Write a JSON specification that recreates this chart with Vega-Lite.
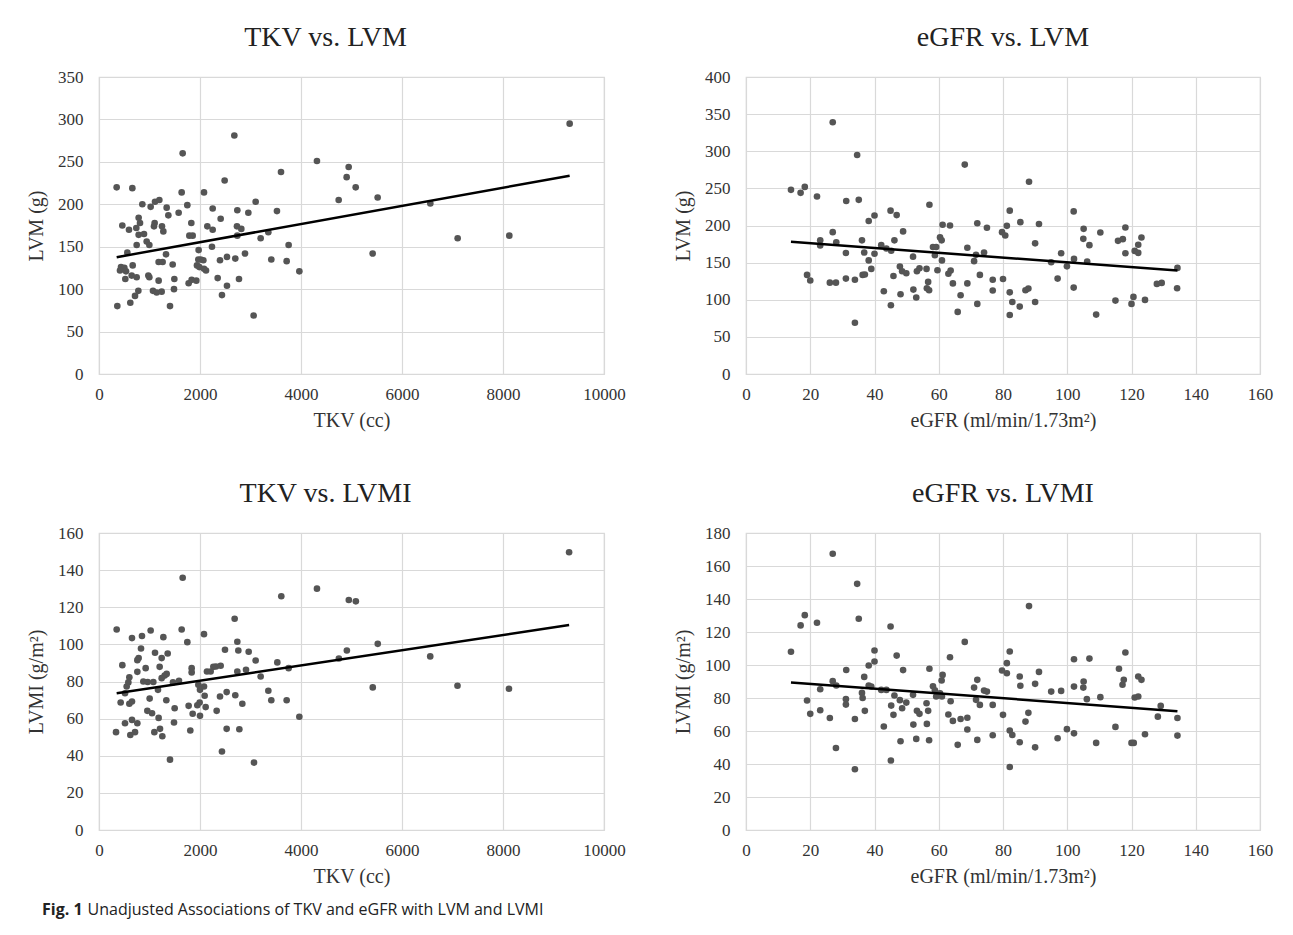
{
 "$schema": "https://vega.github.io/schema/vega-lite/v6.json",
 "background": "white",
 "padding": {"left": 25, "top": 23, "right": 5, "bottom": 5},
 "config": {
  "font": "Liberation Serif",
  "view": {"stroke": "#d9d9d9", "strokeWidth": 1.2},
  "style": {"guide-label": {"font": "Liberation Serif", "fontSize": 17, "fill": "#333333"}},
  "axis": {"domain": false, "ticks": false, "tickSize": 0, "gridColor": "#d9d9d9", "gridWidth": 1.2, "labelFont": "Liberation Serif", "labelFontSize": 17, "labelColor": "#333333", "labelFlush": false, "labelOverlap": false, "titleFont": "Liberation Serif", "titleFontSize": 20, "titleFontWeight": "normal", "titleColor": "#333333", "format": "d"},
  "axisX": {"labelPadding": 12, "titlePadding": 8},
  "axisY": {"labelPadding": 16, "titlePadding": 11},
  "title": {"font": "Liberation Serif", "fontSize": 28, "fontWeight": "normal", "color": "#222222", "anchor": "middle", "frame": "group", "offset": 16}
 },
 "datasets": {
  "tkv_lvm": [
   {"tkv":350,"lvm":220},{"tkv":660,"lvm":219},{"tkv":363,"lvm":80},{"tkv":462,"lvm":175},{"tkv":594,"lvm":170},{"tkv":858,"lvm":200},{"tkv":1023,"lvm":197},{"tkv":1109,"lvm":203},{"tkv":1195,"lvm":205},{"tkv":1340,"lvm":196},{"tkv":1373,"lvm":187},{"tkv":1102,"lvm":178},{"tkv":1089,"lvm":174},{"tkv":1247,"lvm":174},{"tkv":1274,"lvm":168},{"tkv":785,"lvm":184},{"tkv":812,"lvm":178},{"tkv":739,"lvm":172},{"tkv":785,"lvm":164},{"tkv":891,"lvm":165},{"tkv":746,"lvm":152},{"tkv":944,"lvm":156},{"tkv":997,"lvm":152},{"tkv":561,"lvm":143},{"tkv":436,"lvm":126},{"tkv":502,"lvm":125},{"tkv":416,"lvm":122},{"tkv":535,"lvm":121},{"tkv":521,"lvm":112},{"tkv":667,"lvm":128},{"tkv":647,"lvm":116},{"tkv":746,"lvm":114},{"tkv":977,"lvm":116},{"tkv":997,"lvm":114},{"tkv":1181,"lvm":110},{"tkv":779,"lvm":98},{"tkv":713,"lvm":92},{"tkv":620,"lvm":84},{"tkv":1069,"lvm":98},{"tkv":1142,"lvm":96},{"tkv":1241,"lvm":97},{"tkv":1181,"lvm":132},{"tkv":1260,"lvm":132},{"tkv":1327,"lvm":141},{"tkv":1459,"lvm":129},{"tkv":1492,"lvm":112},{"tkv":1485,"lvm":100},{"tkv":1406,"lvm":80},{"tkv":1577,"lvm":190},{"tkv":1637,"lvm":214},{"tkv":1657,"lvm":260},{"tkv":1749,"lvm":199},{"tkv":1828,"lvm":178},{"tkv":1789,"lvm":163},{"tkv":1855,"lvm":163},{"tkv":1973,"lvm":146},{"tkv":1967,"lvm":135},{"tkv":2013,"lvm":135},{"tkv":2066,"lvm":134},{"tkv":1940,"lvm":128},{"tkv":1987,"lvm":126},{"tkv":2079,"lvm":124},{"tkv":2119,"lvm":122},{"tkv":1775,"lvm":107},{"tkv":1835,"lvm":111},{"tkv":1927,"lvm":110},{"tkv":2079,"lvm":214},{"tkv":2145,"lvm":174},{"tkv":2251,"lvm":170},{"tkv":2251,"lvm":195},{"tkv":2237,"lvm":150},{"tkv":2350,"lvm":113},{"tkv":2409,"lvm":183},{"tkv":2396,"lvm":134},{"tkv":2534,"lvm":138},{"tkv":2435,"lvm":93},{"tkv":2534,"lvm":104},{"tkv":2488,"lvm":228},{"tkv":2680,"lvm":281},{"tkv":2739,"lvm":193},{"tkv":2732,"lvm":174},{"tkv":2739,"lvm":163},{"tkv":2818,"lvm":171},{"tkv":2699,"lvm":136},{"tkv":2772,"lvm":112},{"tkv":2891,"lvm":142},{"tkv":2957,"lvm":190},{"tkv":3102,"lvm":203},{"tkv":3062,"lvm":69},{"tkv":3201,"lvm":160},{"tkv":3353,"lvm":167},{"tkv":3524,"lvm":192},{"tkv":3604,"lvm":238},{"tkv":3412,"lvm":135},{"tkv":3755,"lvm":152},{"tkv":3716,"lvm":133},{"tkv":3967,"lvm":121},{"tkv":4316,"lvm":251},{"tkv":4746,"lvm":205},{"tkv":4944,"lvm":244},{"tkv":4904,"lvm":232},{"tkv":5083,"lvm":220},{"tkv":5518,"lvm":208},{"tkv":5419,"lvm":142},{"tkv":6561,"lvm":201},{"tkv":7102,"lvm":160},{"tkv":8125,"lvm":163},{"tkv":9320,"lvm":295}
  ],
  "fit_tkv_lvm": [{"tkv":350,"lvm":137.7},{"tkv":9320,"lvm":233.6}],
  "egfr_lvm": [
   {"egfr":14,"lvm":248},{"egfr":17,"lvm":244},{"egfr":18.3,"lvm":252},{"egfr":22.1,"lvm":239},{"egfr":19,"lvm":133.5},{"egfr":20,"lvm":126},{"egfr":23.1,"lvm":180},{"egfr":23.1,"lvm":173},{"egfr":26.1,"lvm":123},{"egfr":27,"lvm":339},{"egfr":27,"lvm":191},{"egfr":28.1,"lvm":177.5},{"egfr":28,"lvm":123},{"egfr":31.2,"lvm":233},{"egfr":31.1,"lvm":163},{"egfr":31.1,"lvm":128.5},{"egfr":34.6,"lvm":295},{"egfr":35.1,"lvm":234.6},{"egfr":33.9,"lvm":127},{"egfr":33.9,"lvm":69},{"egfr":36.1,"lvm":180},{"egfr":36.8,"lvm":163.6},{"egfr":36.3,"lvm":133.5},{"egfr":37,"lvm":134},{"egfr":38.2,"lvm":206},{"egfr":40,"lvm":213.5},{"egfr":38.2,"lvm":153},{"egfr":40,"lvm":162},{"egfr":39,"lvm":141.5},{"egfr":42.1,"lvm":173.5},{"egfr":42.9,"lvm":111.5},{"egfr":45,"lvm":220},{"egfr":46.9,"lvm":214},{"egfr":43.7,"lvm":169},{"egfr":45.2,"lvm":166},{"egfr":46.2,"lvm":180},{"egfr":48.9,"lvm":192},{"egfr":45.9,"lvm":132},{"egfr":45.1,"lvm":92.6},{"egfr":47.9,"lvm":144.7},{"egfr":48.6,"lvm":138.4},{"egfr":49.9,"lvm":135.7},{"egfr":48.1,"lvm":107.4},{"egfr":52,"lvm":158},{"egfr":52.1,"lvm":113.7},{"egfr":53,"lvm":103},{"egfr":53.2,"lvm":138.4},{"egfr":54,"lvm":142.5},{"egfr":56.2,"lvm":141.5},{"egfr":57.1,"lvm":228},{"egfr":56.3,"lvm":115.5},{"egfr":57,"lvm":112.8},{"egfr":56.7,"lvm":124},{"egfr":58.2,"lvm":171},{"egfr":59.2,"lvm":171},{"egfr":58.8,"lvm":160},{"egfr":59.6,"lvm":139.8},{"egfr":60.4,"lvm":184},{"egfr":60.9,"lvm":180},{"egfr":61.2,"lvm":201},{"egfr":63.5,"lvm":200},{"egfr":61,"lvm":153},{"egfr":63,"lvm":135},{"egfr":63.7,"lvm":139.3},{"egfr":64.4,"lvm":122},{"egfr":66.8,"lvm":106},{"egfr":65.9,"lvm":83.6},{"egfr":68.1,"lvm":282},{"egfr":68.9,"lvm":170},{"egfr":68.9,"lvm":122},{"egfr":71,"lvm":152},{"egfr":72,"lvm":203},{"egfr":71.6,"lvm":160.5},{"egfr":72.8,"lvm":133.5},{"egfr":72,"lvm":94.4},{"egfr":74.1,"lvm":163.6},{"egfr":75,"lvm":197},{"egfr":76.8,"lvm":127},{"egfr":76.8,"lvm":112.4},{"egfr":80,"lvm":128},{"egfr":82.1,"lvm":220},{"egfr":81.2,"lvm":199.5},{"egfr":79.7,"lvm":191},{"egfr":80.7,"lvm":186.5},{"egfr":85.4,"lvm":204.5},{"egfr":88.1,"lvm":259},{"egfr":91.2,"lvm":202},{"egfr":90,"lvm":176},{"egfr":82.1,"lvm":110},{"egfr":82.9,"lvm":97},{"egfr":82.1,"lvm":79.5},{"egfr":85.2,"lvm":90.8},{"egfr":87,"lvm":112.8},{"egfr":87.9,"lvm":115},{"egfr":90,"lvm":97},{"egfr":95,"lvm":150.5},{"egfr":98.1,"lvm":162.7},{"egfr":97,"lvm":128.5},{"egfr":99.9,"lvm":145},{"egfr":102.1,"lvm":155},{"egfr":102,"lvm":219},{"egfr":105.1,"lvm":195.5},{"egfr":105,"lvm":182},{"egfr":106.9,"lvm":173.5},{"egfr":106.2,"lvm":151.5},{"egfr":102,"lvm":116.4},{"egfr":109,"lvm":80},{"egfr":110.3,"lvm":190.5},{"egfr":115.8,"lvm":179.3},{"egfr":117.3,"lvm":181.6},{"egfr":118.1,"lvm":197.3},{"egfr":118.1,"lvm":162.7},{"egfr":115,"lvm":98.9},{"egfr":120.6,"lvm":103.8},{"egfr":120,"lvm":94.4},{"egfr":124.2,"lvm":99.8},{"egfr":121,"lvm":165.8},{"egfr":122.1,"lvm":174},{"egfr":122.1,"lvm":163.1},{"egfr":123.1,"lvm":183.8},{"egfr":127.9,"lvm":121.3},{"egfr":129.4,"lvm":122.7},{"egfr":134.3,"lvm":142.9},{"egfr":134.2,"lvm":115.5}
  ],
  "fit_egfr_lvm": [{"egfr":14,"lvm":178},{"egfr":134.3,"lvm":139.3}],
  "tkv_lvmi": [
   {"tkv":350,"lvmi":108},{"tkv":462,"lvmi":88.8},{"tkv":429,"lvmi":68.7},{"tkv":337,"lvmi":52.7},{"tkv":515,"lvmi":57.5},{"tkv":548,"lvmi":77.3},{"tkv":581,"lvmi":79.5},{"tkv":601,"lvmi":82.3},{"tkv":515,"lvmi":73.7},{"tkv":601,"lvmi":68},{"tkv":653,"lvmi":69.2},{"tkv":620,"lvmi":51.2},{"tkv":653,"lvmi":59.3},{"tkv":713,"lvmi":52.7},{"tkv":759,"lvmi":57.5},{"tkv":653,"lvmi":103.4},{"tkv":851,"lvmi":104.5},{"tkv":1023,"lvmi":107.5},{"tkv":832,"lvmi":97.8},{"tkv":759,"lvmi":91.5},{"tkv":785,"lvmi":92.6},{"tkv":759,"lvmi":85.2},{"tkv":924,"lvmi":87.2},{"tkv":878,"lvmi":80},{"tkv":964,"lvmi":79.7},{"tkv":1003,"lvmi":70.8},{"tkv":957,"lvmi":64.2},{"tkv":1050,"lvmi":62.9},{"tkv":1181,"lvmi":60.4},{"tkv":1096,"lvmi":52.7},{"tkv":1208,"lvmi":54.5},{"tkv":1254,"lvmi":50.5},{"tkv":1109,"lvmi":95.5},{"tkv":1076,"lvmi":79.7},{"tkv":1168,"lvmi":75.5},{"tkv":1201,"lvmi":87.9},{"tkv":1241,"lvmi":92.6},{"tkv":1274,"lvmi":103.9},{"tkv":1360,"lvmi":95.1},{"tkv":1300,"lvmi":83.2},{"tkv":1340,"lvmi":84.1},{"tkv":1241,"lvmi":81.8},{"tkv":1333,"lvmi":69.9},{"tkv":1498,"lvmi":65.6},{"tkv":1485,"lvmi":57.9},{"tkv":1406,"lvmi":37.9},{"tkv":1465,"lvmi":79.5},{"tkv":1584,"lvmi":80.4},{"tkv":1637,"lvmi":108},{"tkv":1657,"lvmi":135.9},{"tkv":1749,"lvmi":101.2},{"tkv":1835,"lvmi":87.2},{"tkv":1835,"lvmi":84.9},{"tkv":1775,"lvmi":66.9},{"tkv":1855,"lvmi":62.6},{"tkv":1808,"lvmi":53.6},{"tkv":1967,"lvmi":78.2},{"tkv":2000,"lvmi":75.5},{"tkv":1993,"lvmi":68.7},{"tkv":1947,"lvmi":67.2},{"tkv":2000,"lvmi":61.5},{"tkv":2079,"lvmi":105.5},{"tkv":2079,"lvmi":77.3},{"tkv":2092,"lvmi":72.3},{"tkv":2112,"lvmi":66.2},{"tkv":2138,"lvmi":85.4},{"tkv":2211,"lvmi":85.4},{"tkv":2264,"lvmi":87.9},{"tkv":2316,"lvmi":88.1},{"tkv":2409,"lvmi":88.5},{"tkv":2330,"lvmi":64.2},{"tkv":2396,"lvmi":71.9},{"tkv":2435,"lvmi":42.3},{"tkv":2495,"lvmi":97.1},{"tkv":2528,"lvmi":74.3},{"tkv":2528,"lvmi":54.5},{"tkv":2686,"lvmi":113.8},{"tkv":2739,"lvmi":101.4},{"tkv":2759,"lvmi":96.7},{"tkv":2739,"lvmi":85.4},{"tkv":2699,"lvmi":72.6},{"tkv":2779,"lvmi":54.3},{"tkv":2838,"lvmi":68},{"tkv":2911,"lvmi":86.3},{"tkv":2964,"lvmi":96},{"tkv":3102,"lvmi":91.3},{"tkv":3069,"lvmi":36.3},{"tkv":3201,"lvmi":82.7},{"tkv":3353,"lvmi":75},{"tkv":3412,"lvmi":69.9},{"tkv":3531,"lvmi":90.3},{"tkv":3610,"lvmi":125.9},{"tkv":3755,"lvmi":87.2},{"tkv":3716,"lvmi":69.9},{"tkv":3967,"lvmi":61},{"tkv":4316,"lvmi":130},{"tkv":4750,"lvmi":92.4},{"tkv":4908,"lvmi":96.7},{"tkv":4947,"lvmi":123.9},{"tkv":5086,"lvmi":123.2},{"tkv":5520,"lvmi":100.3},{"tkv":5421,"lvmi":76.8},{"tkv":6559,"lvmi":93.5},{"tkv":7099,"lvmi":77.7},{"tkv":8118,"lvmi":76.1},{"tkv":9309,"lvmi":149.6}
  ],
  "fit_tkv_lvmi": [{"tkv":350,"lvmi":73.7},{"tkv":9309,"lvmi":110.4}],
  "egfr_lvmi": [
   {"egfr":14,"lvmi":108},{"egfr":17,"lvmi":124},{"egfr":18.3,"lvmi":130.2},{"egfr":22.1,"lvmi":125.6},{"egfr":19,"lvmi":78.5},{"egfr":20,"lvmi":70.4},{"egfr":23.1,"lvmi":85.3},{"egfr":23.1,"lvmi":72.6},{"egfr":26.1,"lvmi":67.9},{"egfr":27,"lvmi":167.4},{"egfr":27,"lvmi":90.2},{"egfr":28.1,"lvmi":87.6},{"egfr":28,"lvmi":49.7},{"egfr":31.2,"lvmi":97},{"egfr":31.1,"lvmi":79.3},{"egfr":31.1,"lvmi":76},{"egfr":34.6,"lvmi":149.2},{"egfr":35.1,"lvmi":128},{"egfr":33.9,"lvmi":67.3},{"egfr":33.9,"lvmi":36.8},{"egfr":36.1,"lvmi":83.1},{"egfr":36.8,"lvmi":92.8},{"egfr":36.3,"lvmi":80},{"egfr":37,"lvmi":72.2},{"egfr":38.2,"lvmi":99.7},{"egfr":40,"lvmi":108.8},{"egfr":38.2,"lvmi":87.6},{"egfr":40,"lvmi":102.1},{"egfr":39,"lvmi":87},{"egfr":42.1,"lvmi":84.9},{"egfr":42.9,"lvmi":62.7},{"egfr":45,"lvmi":123.3},{"egfr":46.9,"lvmi":105.7},{"egfr":43.7,"lvmi":84.9},{"egfr":45.2,"lvmi":75.4},{"egfr":46.2,"lvmi":81.5},{"egfr":48.9,"lvmi":96.9},{"egfr":45.9,"lvmi":69.8},{"egfr":45.1,"lvmi":42.1},{"egfr":47.9,"lvmi":78.7},{"egfr":48.6,"lvmi":73.8},{"egfr":49.9,"lvmi":77.2},{"egfr":48.1,"lvmi":53.8},{"egfr":52,"lvmi":81.9},{"egfr":52.1,"lvmi":63.9},{"egfr":53,"lvmi":55.2},{"egfr":53.2,"lvmi":72.2},{"egfr":54,"lvmi":70.4},{"egfr":56.2,"lvmi":76.8},{"egfr":57.1,"lvmi":97.7},{"egfr":56.3,"lvmi":64.3},{"egfr":57,"lvmi":54.4},{"egfr":56.7,"lvmi":72.2},{"egfr":58.2,"lvmi":87.1},{"egfr":59.2,"lvmi":80.9},{"egfr":58.8,"lvmi":84.7},{"egfr":59.6,"lvmi":81.5},{"egfr":60.4,"lvmi":82.9},{"egfr":60.9,"lvmi":90.6},{"egfr":61.2,"lvmi":94},{"egfr":63.5,"lvmi":104.7},{"egfr":61,"lvmi":80.9},{"egfr":63,"lvmi":70},{"egfr":63.7,"lvmi":78},{"egfr":64.4,"lvmi":66.1},{"egfr":66.8,"lvmi":67.3},{"egfr":65.9,"lvmi":51.6},{"egfr":68.1,"lvmi":114},{"egfr":68.9,"lvmi":68},{"egfr":68.9,"lvmi":60.9},{"egfr":71,"lvmi":86.3},{"egfr":72,"lvmi":91},{"egfr":71.6,"lvmi":78.9},{"egfr":72.8,"lvmi":75.8},{"egfr":72,"lvmi":54.6},{"egfr":74.1,"lvmi":84.5},{"egfr":75,"lvmi":83.9},{"egfr":76.8,"lvmi":75.8},{"egfr":76.8,"lvmi":57.4},{"egfr":80,"lvmi":69.8},{"egfr":82.1,"lvmi":108.2},{"egfr":81.2,"lvmi":101.1},{"egfr":79.7,"lvmi":96.7},{"egfr":81.2,"lvmi":95},{"egfr":85.2,"lvmi":93},{"egfr":85.4,"lvmi":87.4},{"egfr":88.1,"lvmi":135.7},{"egfr":91.2,"lvmi":95.8},{"egfr":90,"lvmi":88.6},{"egfr":87.9,"lvmi":71},{"egfr":87,"lvmi":65.7},{"egfr":82.1,"lvmi":60.3},{"egfr":82.9,"lvmi":57.6},{"egfr":85.2,"lvmi":53.2},{"egfr":82.1,"lvmi":38.2},{"egfr":90,"lvmi":50.1},{"egfr":95,"lvmi":83.9},{"egfr":98.1,"lvmi":84.3},{"egfr":97,"lvmi":55.6},{"egfr":99.9,"lvmi":61.1},{"egfr":102.1,"lvmi":58.6},{"egfr":102.1,"lvmi":103.5},{"egfr":102.1,"lvmi":86.9},{"egfr":105.1,"lvmi":90},{"egfr":105,"lvmi":86.3},{"egfr":106.1,"lvmi":79.3},{"egfr":106.9,"lvmi":103.9},{"egfr":110.3,"lvmi":80.5},{"egfr":109,"lvmi":52.8},{"egfr":115,"lvmi":62.5},{"egfr":116.1,"lvmi":97.7},{"egfr":117.2,"lvmi":88},{"egfr":117.6,"lvmi":91},{"egfr":118.1,"lvmi":107.6},{"egfr":120,"lvmi":52.8},{"egfr":120.7,"lvmi":52.8},{"egfr":124.2,"lvmi":58},{"egfr":121,"lvmi":80.3},{"egfr":122.1,"lvmi":80.9},{"egfr":122.1,"lvmi":93},{"egfr":123.1,"lvmi":91},{"egfr":128.2,"lvmi":68.7},{"egfr":129.1,"lvmi":75.2},{"egfr":134.3,"lvmi":67.9},{"egfr":134.3,"lvmi":57.2}
  ],
  "fit_egfr_lvmi": [{"egfr":14,"lvmi":89.4},{"egfr":134.3,"lvmi":72}]
 },
 "vconcat": [
  {
   "vconcat": [
    {
     "hconcat": [
      {
       "title": {"text": "TKV vs. LVM", "dx": -26},
       "width": 505, "height": 297,
       "encoding": {
        "x": {"field": "tkv", "type": "quantitative", "title": "TKV (cc)", "scale": {"domain": [0, 10000], "nice": false}, "axis": {"values": [0, 2000, 4000, 6000, 8000, 10000], "tickCount": 20}},
        "y": {"field": "lvm", "type": "quantitative", "title": "LVM (g)", "scale": {"domain": [0, 350], "nice": false}, "axis": {"values": [0, 50, 100, 150, 200, 250, 300, 350], "tickCount": 20}}
       },
       "layer": [
        {"data": {"name": "tkv_lvm"}, "mark": {"type": "circle", "size": 44, "color": "#555555", "opacity": 1}},
        {"data": {"name": "fit_tkv_lvm"}, "mark": {"type": "line", "color": "#000000", "strokeWidth": 2.5}},
        {"data": {"values": [{"label": "R² = 0.1464"}]}, "mark": {"type": "text", "font": "Liberation Serif", "fontSize": 18, "color": "#333333"},
         "encoding": {"x": {"datum": 7281, "type": "quantitative"}, "y": {"datum": 290.5, "type": "quantitative"}, "text": {"field": "label"}}}
       ]
      },
      {
       "title": {"text": "eGFR vs. LVM"},
       "width": 514, "height": 297,
       "encoding": {
        "x": {"field": "egfr", "type": "quantitative", "title": "eGFR (ml/min/1.73m²)", "scale": {"domain": [0, 160], "nice": false}, "axis": {"values": [0, 20, 40, 60, 80, 100, 120, 140, 160], "tickCount": 20}},
        "y": {"field": "lvm", "type": "quantitative", "title": "LVM (g)", "scale": {"domain": [0, 400], "nice": false}, "axis": {"values": [0, 50, 100, 150, 200, 250, 300, 350, 400], "tickCount": 20}}
       },
       "layer": [
        {"data": {"name": "egfr_lvm"}, "mark": {"type": "circle", "size": 44, "color": "#555555", "opacity": 1}},
        {"data": {"name": "fit_egfr_lvm"}, "mark": {"type": "line", "color": "#000000", "strokeWidth": 2.5}},
        {"data": {"values": [{"label": "R² = 0.0467"}]}, "mark": {"type": "text", "font": "Liberation Serif", "fontSize": 18, "color": "#333333"},
         "encoding": {"x": {"datum": 127.8, "type": "quantitative"}, "y": {"datum": 343, "type": "quantitative"}, "text": {"field": "label"}}}
       ]
      }
     ],
     "spacing": 46
    },
    {
     "hconcat": [
      {
       "title": {"text": "TKV vs. LVMI", "dx": -26},
       "width": 505, "height": 297,
       "encoding": {
        "x": {"field": "tkv", "type": "quantitative", "title": "TKV (cc)", "scale": {"domain": [0, 10000], "nice": false}, "axis": {"values": [0, 2000, 4000, 6000, 8000, 10000], "tickCount": 20}},
        "y": {"field": "lvmi", "type": "quantitative", "title": "LVMI (g/m²)", "scale": {"domain": [0, 160], "nice": false}, "axis": {"values": [0, 20, 40, 60, 80, 100, 120, 140, 160], "tickCount": 20}}
       },
       "layer": [
        {"data": {"name": "tkv_lvmi"}, "mark": {"type": "circle", "size": 44, "color": "#555555", "opacity": 1}},
        {"data": {"name": "fit_tkv_lvmi"}, "mark": {"type": "line", "color": "#000000", "strokeWidth": 2.5}},
        {"data": {"values": [{"label": "R² = 0.1087"}]}, "mark": {"type": "text", "font": "Liberation Serif", "fontSize": 18, "color": "#333333"},
         "encoding": {"x": {"datum": 7994, "type": "quantitative"}, "y": {"datum": 135.4, "type": "quantitative"}, "text": {"field": "label"}}}
       ]
      },
      {
       "title": {"text": "eGFR vs. LVMI"},
       "width": 514, "height": 297,
       "encoding": {
        "x": {"field": "egfr", "type": "quantitative", "title": "eGFR (ml/min/1.73m²)", "scale": {"domain": [0, 160], "nice": false}, "axis": {"values": [0, 20, 40, 60, 80, 100, 120, 140, 160], "tickCount": 20}},
        "y": {"field": "lvmi", "type": "quantitative", "title": "LVMI (g/m²)", "scale": {"domain": [0, 180], "nice": false}, "axis": {"values": [0, 20, 40, 60, 80, 100, 120, 140, 160, 180], "tickCount": 20}}
       },
       "layer": [
        {"data": {"name": "egfr_lvmi"}, "mark": {"type": "circle", "size": 44, "color": "#555555", "opacity": 1}},
        {"data": {"name": "fit_egfr_lvmi"}, "mark": {"type": "line", "color": "#000000", "strokeWidth": 2.5}},
        {"data": {"values": [{"label": "R² = 0.0464"}]}, "mark": {"type": "text", "font": "Liberation Serif", "fontSize": 18, "color": "#333333"},
         "encoding": {"x": {"datum": 133.5, "type": "quantitative"}, "y": {"datum": 159.8, "type": "quantitative"}, "text": {"field": "label"}}}
       ]
      }
     ],
     "spacing": 46
    }
   ],
   "spacing": 48
  },
  {
   "width": 1200, "height": 20,
   "view": {"stroke": null},
   "layer": [
    {"data": {"values": [{"t": "Fig. 1"}]}, "mark": {"type": "text", "font": "Open Sans", "fontSize": 16, "fontWeight": "bold", "align": "left", "color": "#222222", "dx": -57},
     "encoding": {"text": {"field": "t"}, "x": {"datum": 0, "type": "quantitative", "scale": {"domain": [0, 1]}, "axis": null}}},
    {"data": {"values": [{"t": "Unadjusted Associations of TKV and eGFR with LVM and LVMI"}]}, "mark": {"type": "text", "font": "Open Sans", "fontSize": 16, "align": "left", "color": "#222222", "dx": -57},
     "encoding": {"text": {"field": "t"}, "x": {"datum": 0.038, "type": "quantitative", "scale": {"domain": [0, 1]}, "axis": null}}}
   ]
  }
 ],
 "spacing": 13
}
